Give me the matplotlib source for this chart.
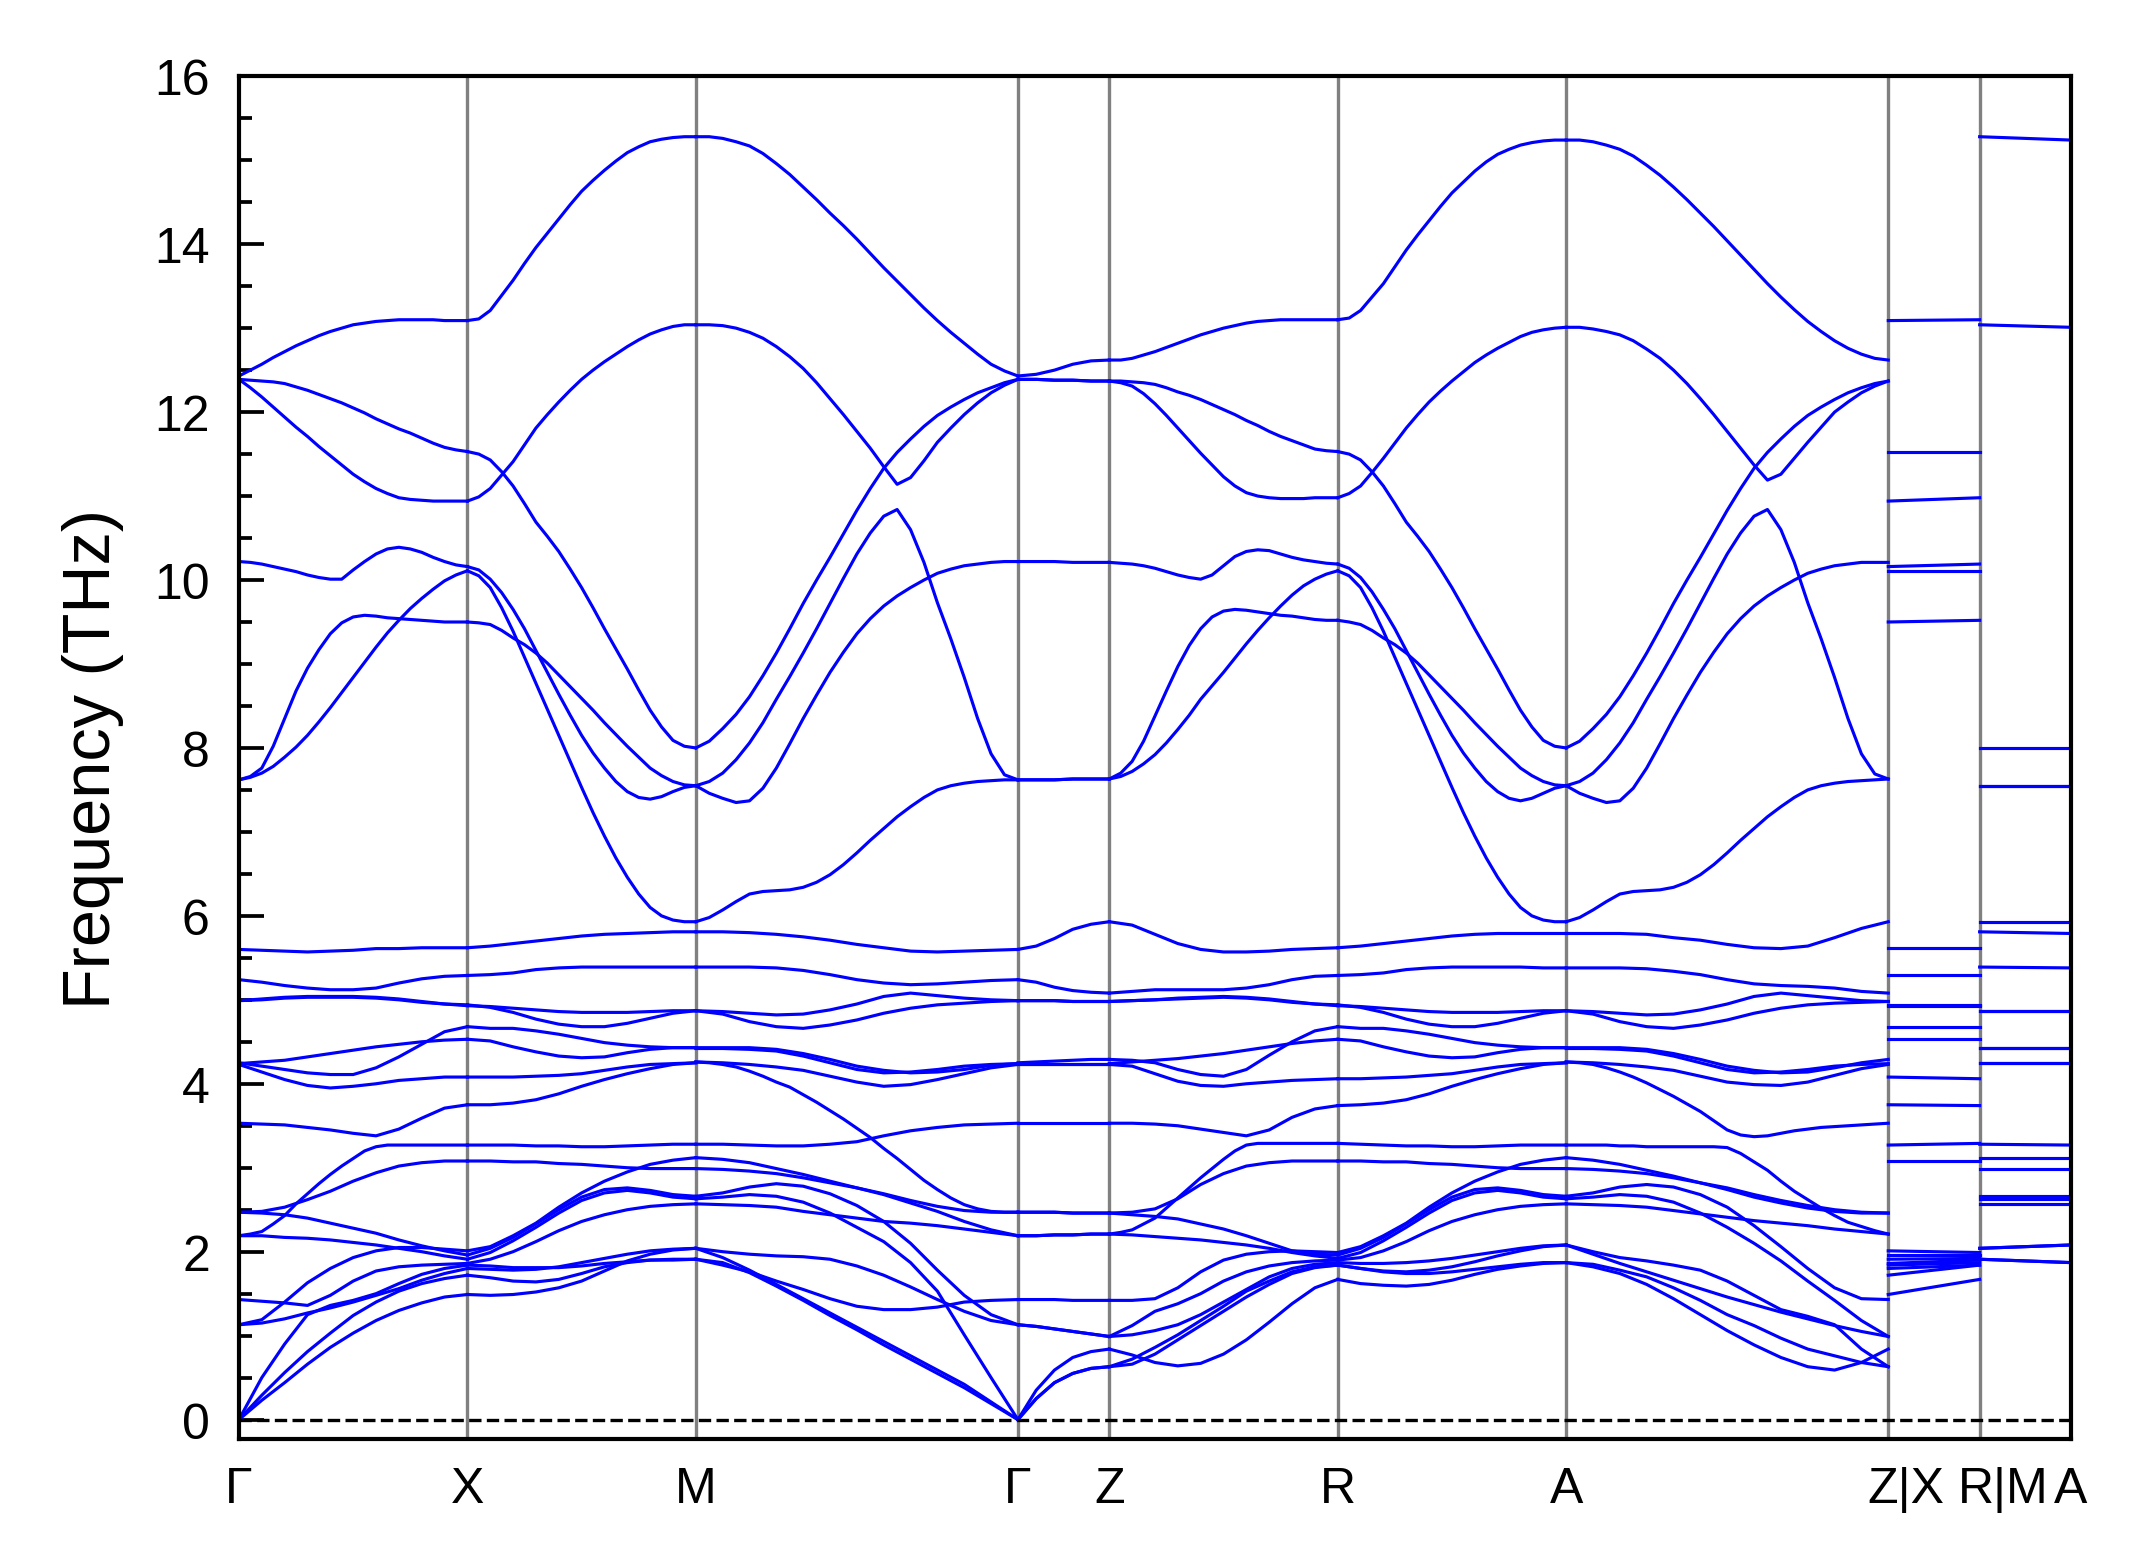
import numpy as np
import matplotlib
matplotlib.use("Agg")
import matplotlib.pyplot as plt
import matplotlib.transforms as mtransforms

plt.rcParams['font.family'] = ['Liberation Sans', 'DejaVu Sans']

# high-symmetry path and relative segment lengths (tetragonal, c/a ~ 2.5)
labels = ["Γ", "X", "M", "Γ", "Z", "R", "A", "Z|X", "R|M", "A"]
seg_len = [1.0, 1.0, 1.41, 0.40, 1.0, 1.0, 1.41, 0.40, 0.40]

# phonon frequencies (THz), one row per band, read along each segment.
# the six optical bands above 6 THz (and a few steep low ones) are read more finely

hi_GX = [
    [12.43, 12.50, 12.57, 12.65, 12.72, 12.79, 12.85, 12.91, 12.96, 13.00, 13.04,
     13.06, 13.08, 13.09, 13.10, 13.10, 13.10, 13.10, 13.09, 13.09, 13.09],
    [12.39, 12.38, 12.37, 12.36, 12.34, 12.30, 12.26, 12.21, 12.16, 12.11, 12.05,
     11.99, 11.92, 11.86, 11.80, 11.75, 11.69, 11.63, 11.58, 11.55, 11.53],
    [12.39, 12.29, 12.18, 12.06, 11.94, 11.82, 11.71, 11.59, 11.48, 11.37, 11.26,
     11.17, 11.09, 11.03, 10.98, 10.96, 10.95, 10.94, 10.94, 10.94, 10.94],
    [10.22, 10.21, 10.19, 10.16, 10.13, 10.10, 10.06, 10.03, 10.01, 10.01, 10.12,
     10.22, 10.31, 10.37, 10.39, 10.37, 10.33, 10.27, 10.22, 10.18, 10.16],
    [7.62, 7.65, 7.70, 7.78, 7.89, 8.01, 8.15, 8.31, 8.48, 8.66, 8.84,
     9.02, 9.20, 9.37, 9.52, 9.66, 9.78, 9.89, 9.99, 10.06, 10.11],
    [7.62, 7.66, 7.76, 8.02, 8.35, 8.68, 8.95, 9.17, 9.36, 9.49, 9.56,
     9.58, 9.57, 9.55, 9.54, 9.53, 9.52, 9.51, 9.50, 9.50, 9.50],
    [2.19, 2.21, 2.24, 2.33, 2.43, 2.57, 2.69, 2.81, 2.92, 3.02, 3.11,
     3.20, 3.25, 3.27, 3.27, 3.27, 3.27, 3.27, 3.27, 3.27, 3.27],
]
lo_GX = [
    [5.60, 5.59, 5.58, 5.57, 5.58, 5.59, 5.61, 5.61, 5.62, 5.62, 5.62],
    [5.24, 5.21, 5.17, 5.14, 5.12, 5.12, 5.14, 5.20, 5.25, 5.28, 5.29],
    [4.99, 5.01, 5.03, 5.04, 5.04, 5.04, 5.03, 5.01, 4.98, 4.95, 4.93],
    [4.99, 5.00, 5.02, 5.03, 5.03, 5.03, 5.02, 5.00, 4.97, 4.95, 4.94],
    [4.25, 4.21, 4.17, 4.13, 4.11, 4.11, 4.19, 4.32, 4.47, 4.62, 4.68],
    [4.24, 4.26, 4.28, 4.32, 4.36, 4.40, 4.44, 4.47, 4.50, 4.52, 4.53],
    [4.23, 4.14, 4.05, 3.98, 3.95, 3.97, 4.00, 4.04, 4.06, 4.08, 4.08],
    [3.53, 3.52, 3.51, 3.48, 3.45, 3.41, 3.38, 3.46, 3.59, 3.71, 3.75],
    [2.47, 2.48, 2.53, 2.62, 2.72, 2.84, 2.94, 3.02, 3.06, 3.08, 3.08],
    [2.47, 2.46, 2.44, 2.40, 2.34, 2.28, 2.22, 2.14, 2.07, 2.01, 1.96],
    [2.19, 2.19, 2.17, 2.16, 2.14, 2.11, 2.08, 2.04, 2.00, 1.95, 1.91],
    [1.43, 1.41, 1.39, 1.36, 1.48, 1.65, 1.77, 1.82, 1.84, 1.85, 1.86],
    [1.13, 1.19, 1.40, 1.63, 1.80, 1.93, 2.01, 2.05, 2.05, 2.03, 2.01],
    [1.13, 1.15, 1.20, 1.27, 1.33, 1.40, 1.48, 1.56, 1.66, 1.74, 1.80],
    [0.00, 0.23, 0.44, 0.66, 0.86, 1.03, 1.18, 1.30, 1.39, 1.46, 1.49],
    [0.00, 0.29, 0.56, 0.81, 1.03, 1.24, 1.40, 1.53, 1.62, 1.68, 1.72],
    [0.00, 0.50, 0.90, 1.25, 1.36, 1.42, 1.50, 1.62, 1.73, 1.80, 1.84],
]

hi_XM = [
    [13.09, 13.11, 13.21, 13.39, 13.57, 13.77, 13.96, 14.13, 14.30, 14.47, 14.63,
     14.76, 14.88, 14.99, 15.09, 15.16, 15.22, 15.25, 15.27, 15.28, 15.28],
    [10.94, 10.99, 11.09, 11.25, 11.41, 11.61, 11.81, 11.97, 12.12, 12.26, 12.39,
     12.50, 12.60, 12.69, 12.78, 12.86, 12.93, 12.98, 13.02, 13.04, 13.04],
    [11.53, 11.50, 11.43, 11.29, 11.12, 10.91, 10.69, 10.52, 10.34, 10.13, 9.91,
     9.67, 9.42, 9.18, 8.94, 8.69, 8.45, 8.25, 8.09, 8.02, 8.00],
    [10.16, 10.12, 10.01, 9.85, 9.65, 9.42, 9.16, 8.90, 8.64, 8.39, 8.15,
     7.94, 7.76, 7.60, 7.48, 7.41, 7.39, 7.42, 7.48, 7.53, 7.55],
    [10.11, 10.05, 9.91, 9.67, 9.39, 9.08, 8.77, 8.46, 8.15, 7.84, 7.53,
     7.23, 6.95, 6.69, 6.46, 6.26, 6.10, 6.00, 5.95, 5.93, 5.93],
    [9.50, 9.49, 9.47, 9.40, 9.31, 9.23, 9.13, 9.01, 8.87, 8.73, 8.59,
     8.45, 8.30, 8.16, 8.02, 7.89, 7.76, 7.67, 7.60, 7.56, 7.55],
]
lo_XM = [
    [5.62, 5.64, 5.67, 5.70, 5.73, 5.76, 5.78, 5.79, 5.80, 5.81, 5.81],
    [5.29, 5.30, 5.32, 5.36, 5.38, 5.39, 5.39, 5.39, 5.39, 5.39, 5.39],
    [4.93, 4.92, 4.90, 4.88, 4.86, 4.85, 4.85, 4.85, 4.86, 4.87, 4.87],
    [4.94, 4.91, 4.85, 4.77, 4.71, 4.68, 4.68, 4.72, 4.78, 4.84, 4.87],
    [4.68, 4.66, 4.66, 4.63, 4.59, 4.54, 4.49, 4.46, 4.44, 4.43, 4.43],
    [4.53, 4.51, 4.44, 4.38, 4.33, 4.31, 4.32, 4.37, 4.41, 4.43, 4.43],
    [4.08, 4.08, 4.08, 4.09, 4.10, 4.12, 4.16, 4.20, 4.23, 4.24, 4.25],
    [3.75, 3.75, 3.77, 3.81, 3.88, 3.97, 4.05, 4.12, 4.18, 4.23, 4.25],
    [3.27, 3.27, 3.27, 3.26, 3.26, 3.25, 3.25, 3.26, 3.27, 3.28, 3.28],
    [3.08, 3.08, 3.07, 3.07, 3.05, 3.04, 3.02, 3.00, 2.99, 2.99, 2.99],
    [2.01, 2.06, 2.19, 2.34, 2.53, 2.70, 2.84, 2.95, 3.04, 3.09, 3.12],
    [1.96, 2.04, 2.17, 2.33, 2.50, 2.65, 2.74, 2.76, 2.73, 2.68, 2.66],
    [1.91, 1.99, 2.13, 2.29, 2.46, 2.61, 2.70, 2.73, 2.70, 2.65, 2.63],
    [1.86, 1.91, 2.00, 2.12, 2.25, 2.36, 2.44, 2.50, 2.54, 2.56, 2.57],
    [1.80, 1.79, 1.78, 1.79, 1.82, 1.87, 1.92, 1.97, 2.01, 2.03, 2.04],
    [1.84, 1.83, 1.81, 1.81, 1.81, 1.83, 1.86, 1.88, 1.90, 1.90, 1.91],
    [1.72, 1.69, 1.65, 1.64, 1.67, 1.74, 1.82, 1.87, 1.90, 1.91, 1.91],
    [1.49, 1.48, 1.49, 1.52, 1.57, 1.65, 1.77, 1.89, 1.97, 2.02, 2.04],
]

hi_MG = [
    [15.28, 15.28, 15.26, 15.22, 15.17, 15.08, 14.96, 14.83, 14.68, 14.53, 14.37, 14.22,
     14.06, 13.89, 13.72, 13.56, 13.40, 13.24, 13.09, 12.95, 12.82, 12.69, 12.57, 12.49, 12.43],
    [13.04, 13.04, 13.03, 13.00, 12.95, 12.88, 12.78, 12.66, 12.52, 12.35, 12.16, 11.97,
     11.77, 11.57, 11.35, 11.14, 11.22, 11.42, 11.64, 11.81, 11.97, 12.11, 12.23, 12.32, 12.39],
    [8.00, 8.08, 8.23, 8.40, 8.61, 8.86, 9.13, 9.42, 9.72, 10.00, 10.27, 10.55,
     10.83, 11.09, 11.33, 11.52, 11.68, 11.83, 11.96, 12.06, 12.15, 12.23, 12.29, 12.35, 12.39],
    [7.55, 7.60, 7.70, 7.86, 8.06, 8.30, 8.58, 8.85, 9.13, 9.42, 9.72, 10.02,
     10.31, 10.56, 10.76, 10.84, 10.60, 10.21, 9.73, 9.30, 8.84, 8.35, 7.93, 7.68, 7.62],
    [7.55, 7.46, 7.40, 7.35, 7.37, 7.52, 7.76, 8.05, 8.35, 8.63, 8.90, 9.14,
     9.36, 9.54, 9.69, 9.81, 9.91, 10.00, 10.08, 10.13, 10.17, 10.19, 10.21, 10.22, 10.22],
    [5.93, 5.98, 6.07, 6.17, 6.26, 6.29, 6.30, 6.31, 6.34, 6.40, 6.49, 6.61,
     6.75, 6.90, 7.04, 7.18, 7.30, 7.41, 7.50, 7.55, 7.58, 7.60, 7.61, 7.62, 7.62],
    [4.26, 4.25, 4.23, 4.20, 4.15, 4.09, 4.02, 3.96, 3.87, 3.78, 3.68, 3.58,
     3.47, 3.36, 3.23, 3.11, 2.98, 2.85, 2.74, 2.64, 2.56, 2.51, 2.48, 2.47, 2.47],
]
lo_MG = [
    [5.81, 5.81, 5.80, 5.78, 5.75, 5.71, 5.66, 5.62, 5.58, 5.57, 5.58, 5.59, 5.60],
    [5.39, 5.39, 5.39, 5.38, 5.35, 5.30, 5.24, 5.20, 5.18, 5.19, 5.21, 5.23, 5.24],
    [4.87, 4.86, 4.84, 4.82, 4.83, 4.88, 4.95, 5.04, 5.08, 5.05, 5.02, 5.00, 4.99],
    [4.87, 4.83, 4.74, 4.68, 4.66, 4.70, 4.76, 4.84, 4.90, 4.94, 4.96, 4.98, 4.99],
    [4.43, 4.43, 4.43, 4.41, 4.36, 4.29, 4.21, 4.16, 4.13, 4.14, 4.17, 4.22, 4.24],
    [4.42, 4.42, 4.41, 4.39, 4.33, 4.25, 4.17, 4.13, 4.14, 4.17, 4.21, 4.23, 4.24],
    [4.26, 4.25, 4.23, 4.20, 4.16, 4.09, 4.02, 3.97, 3.99, 4.05, 4.12, 4.19, 4.23],
    [3.28, 3.28, 3.27, 3.26, 3.26, 3.28, 3.31, 3.38, 3.44, 3.48, 3.51, 3.52, 3.53],
    [2.99, 2.98, 2.96, 2.93, 2.88, 2.82, 2.76, 2.69, 2.61, 2.54, 2.49, 2.47, 2.47],
    [3.12, 3.10, 3.06, 2.99, 2.92, 2.84, 2.76, 2.68, 2.58, 2.48, 2.36, 2.26, 2.19],
    [2.66, 2.70, 2.77, 2.81, 2.78, 2.69, 2.55, 2.36, 2.10, 1.78, 1.48, 1.25, 1.13],
    [2.63, 2.65, 2.68, 2.66, 2.59, 2.46, 2.29, 2.12, 1.87, 1.53, 1.01, 0.50, 0.00],
    [2.57, 2.56, 2.55, 2.53, 2.48, 2.44, 2.40, 2.36, 2.34, 2.31, 2.27, 2.23, 2.19],
    [2.04, 2.00, 1.97, 1.95, 1.94, 1.91, 1.83, 1.72, 1.58, 1.43, 1.29, 1.18, 1.13],
    [1.91, 1.84, 1.76, 1.65, 1.55, 1.44, 1.35, 1.31, 1.31, 1.34, 1.40, 1.42, 1.43],
    [2.04, 1.93, 1.78, 1.61, 1.44, 1.27, 1.10, 0.93, 0.76, 0.59, 0.42, 0.21, 0.00],
    [1.91, 1.87, 1.75, 1.59, 1.42, 1.24, 1.07, 0.89, 0.72, 0.55, 0.38, 0.19, 0.00],
]

bands_GZ = [
    [12.43, 12.45, 12.50, 12.57, 12.61, 12.62],
    [12.39, 12.39, 12.38, 12.38, 12.37, 12.37],
    [12.39, 12.39, 12.38, 12.38, 12.37, 12.37],
    [10.22, 10.22, 10.22, 10.21, 10.21, 10.21],
    [7.62, 7.62, 7.62, 7.63, 7.63, 7.63],
    [7.62, 7.62, 7.62, 7.63, 7.63, 7.63],
    [5.60, 5.64, 5.73, 5.84, 5.90, 5.93],
    [5.24, 5.21, 5.15, 5.11, 5.09, 5.08],
    [4.99, 4.99, 4.99, 4.98, 4.98, 4.98],
    [4.99, 4.99, 4.99, 4.98, 4.98, 4.98],
    [4.25, 4.26, 4.27, 4.28, 4.29, 4.29],
    [4.24, 4.24, 4.24, 4.24, 4.24, 4.24],
    [4.23, 4.23, 4.23, 4.23, 4.23, 4.23],
    [3.53, 3.53, 3.53, 3.53, 3.53, 3.53],
    [2.47, 2.47, 2.47, 2.46, 2.46, 2.46],
    [2.47, 2.47, 2.47, 2.46, 2.46, 2.46],
    [2.19, 2.19, 2.20, 2.20, 2.21, 2.21],
    [2.19, 2.19, 2.20, 2.20, 2.21, 2.21],
    [1.43, 1.43, 1.43, 1.42, 1.42, 1.42],
    [1.13, 1.11, 1.08, 1.05, 1.02, 0.99],
    [1.13, 1.11, 1.08, 1.05, 1.02, 0.99],
    [0.00, 0.35, 0.59, 0.74, 0.81, 0.84],
    [0.00, 0.25, 0.44, 0.55, 0.61, 0.63],
    [0.00, 0.25, 0.44, 0.55, 0.61, 0.63],
]

hi_ZR = [
    [12.62, 12.62, 12.64, 12.68, 12.72, 12.77, 12.82, 12.87, 12.92, 12.96, 13.00,
     13.03, 13.06, 13.08, 13.09, 13.10, 13.10, 13.10, 13.10, 13.10, 13.10],
    [12.37, 12.37, 12.36, 12.35, 12.33, 12.29, 12.24, 12.20, 12.15, 12.09, 12.03,
     11.97, 11.90, 11.84, 11.77, 11.71, 11.66, 11.61, 11.56, 11.54, 11.53],
    [12.37, 12.35, 12.31, 12.22, 12.10, 11.96, 11.81, 11.66, 11.51, 11.37, 11.23,
     11.12, 11.04, 11.00, 10.98, 10.97, 10.97, 10.97, 10.98, 10.98, 10.98],
    [10.21, 10.20, 10.19, 10.17, 10.14, 10.10, 10.06, 10.03, 10.01, 10.06, 10.17,
     10.28, 10.34, 10.36, 10.35, 10.31, 10.27, 10.24, 10.22, 10.20, 10.19],
    [7.63, 7.66, 7.72, 7.81, 7.92, 8.06, 8.22, 8.39, 8.58, 8.74, 8.90,
     9.07, 9.24, 9.40, 9.55, 9.69, 9.82, 9.93, 10.01, 10.07, 10.11],
    [7.63, 7.70, 7.84, 8.08, 8.38, 8.68, 8.97, 9.22, 9.42, 9.56, 9.63,
     9.65, 9.64, 9.62, 9.60, 9.58, 9.57, 9.55, 9.53, 9.52, 9.52],
    [2.21, 2.23, 2.26, 2.33, 2.40, 2.52, 2.64, 2.76, 2.88, 2.99, 3.10,
     3.20, 3.27, 3.29, 3.29, 3.29, 3.29, 3.29, 3.29, 3.29, 3.29],
]
lo_ZR = [
    [5.93, 5.89, 5.78, 5.67, 5.60, 5.57, 5.57, 5.58, 5.60, 5.61, 5.62],
    [5.08, 5.10, 5.12, 5.12, 5.12, 5.12, 5.14, 5.18, 5.24, 5.28, 5.29],
    [4.98, 4.99, 5.00, 5.02, 5.03, 5.04, 5.03, 5.01, 4.98, 4.95, 4.93],
    [4.98, 4.99, 5.00, 5.01, 5.02, 5.03, 5.02, 5.00, 4.97, 4.95, 4.94],
    [4.29, 4.28, 4.25, 4.17, 4.11, 4.09, 4.17, 4.34, 4.50, 4.63, 4.68],
    [4.24, 4.26, 4.28, 4.30, 4.33, 4.36, 4.40, 4.44, 4.48, 4.51, 4.53],
    [4.23, 4.21, 4.12, 4.03, 3.98, 3.97, 4.00, 4.02, 4.04, 4.05, 4.06],
    [3.53, 3.53, 3.52, 3.50, 3.46, 3.42, 3.38, 3.45, 3.60, 3.70, 3.74],
    [2.46, 2.47, 2.51, 2.63, 2.80, 2.93, 3.02, 3.06, 3.08, 3.08, 3.08],
    [2.46, 2.44, 2.42, 2.39, 2.33, 2.27, 2.19, 2.10, 2.01, 1.97, 1.96],
    [2.21, 2.20, 2.18, 2.16, 2.14, 2.11, 2.08, 2.04, 1.99, 1.95, 1.92],
    [1.42, 1.42, 1.44, 1.57, 1.76, 1.90, 1.97, 2.00, 2.01, 2.00, 1.99],
    [0.99, 1.12, 1.29, 1.38, 1.50, 1.65, 1.76, 1.83, 1.87, 1.89, 1.90],
    [0.99, 1.01, 1.06, 1.13, 1.25, 1.40, 1.55, 1.70, 1.80, 1.85, 1.87],
    [0.84, 0.77, 0.68, 0.64, 0.67, 0.78, 0.95, 1.16, 1.38, 1.57, 1.67],
    [0.63, 0.72, 0.86, 1.01, 1.18, 1.35, 1.53, 1.65, 1.76, 1.82, 1.84],
    [0.63, 0.66, 0.78, 0.95, 1.12, 1.29, 1.46, 1.61, 1.74, 1.81, 1.84],
]

hi_RA = [
    [13.10, 13.12, 13.21, 13.37, 13.53, 13.73, 13.93, 14.11, 14.28, 14.45, 14.61,
     14.74, 14.87, 14.98, 15.07, 15.13, 15.18, 15.21, 15.23, 15.24, 15.24],
    [10.98, 11.03, 11.12, 11.28, 11.45, 11.63, 11.81, 11.97, 12.12, 12.25, 12.37,
     12.48, 12.59, 12.68, 12.76, 12.83, 12.90, 12.95, 12.98, 13.00, 13.01],
    [11.53, 11.50, 11.43, 11.29, 11.12, 10.91, 10.69, 10.52, 10.34, 10.13, 9.91,
     9.67, 9.42, 9.18, 8.94, 8.69, 8.45, 8.25, 8.09, 8.02, 8.00],
    [10.19, 10.14, 10.03, 9.86, 9.65, 9.42, 9.16, 8.90, 8.64, 8.39, 8.15,
     7.94, 7.76, 7.60, 7.48, 7.40, 7.37, 7.40, 7.46, 7.52, 7.55],
    [10.11, 10.05, 9.91, 9.67, 9.39, 9.08, 8.77, 8.46, 8.15, 7.84, 7.53,
     7.23, 6.95, 6.69, 6.46, 6.26, 6.10, 6.00, 5.95, 5.93, 5.93],
    [9.52, 9.50, 9.47, 9.40, 9.31, 9.23, 9.13, 9.01, 8.87, 8.73, 8.59,
     8.45, 8.30, 8.16, 8.02, 7.89, 7.76, 7.67, 7.60, 7.56, 7.55],
]
lo_RA = [
    [5.62, 5.64, 5.67, 5.70, 5.73, 5.76, 5.78, 5.79, 5.79, 5.79, 5.79],
    [5.29, 5.30, 5.32, 5.36, 5.38, 5.39, 5.39, 5.39, 5.39, 5.38, 5.38],
    [4.93, 4.92, 4.90, 4.88, 4.86, 4.85, 4.85, 4.85, 4.86, 4.87, 4.87],
    [4.94, 4.91, 4.85, 4.77, 4.71, 4.68, 4.68, 4.72, 4.78, 4.84, 4.87],
    [4.68, 4.66, 4.66, 4.63, 4.59, 4.54, 4.49, 4.46, 4.44, 4.43, 4.43],
    [4.53, 4.51, 4.44, 4.38, 4.33, 4.31, 4.32, 4.37, 4.41, 4.43, 4.43],
    [4.06, 4.06, 4.07, 4.08, 4.10, 4.12, 4.16, 4.20, 4.23, 4.24, 4.25],
    [3.74, 3.75, 3.77, 3.81, 3.88, 3.97, 4.05, 4.12, 4.18, 4.23, 4.25],
    [3.29, 3.28, 3.27, 3.26, 3.26, 3.25, 3.25, 3.26, 3.27, 3.27, 3.27],
    [3.08, 3.08, 3.07, 3.07, 3.05, 3.04, 3.02, 3.00, 2.99, 2.99, 2.99],
    [1.99, 2.06, 2.19, 2.34, 2.53, 2.70, 2.84, 2.95, 3.04, 3.09, 3.12],
    [1.96, 2.04, 2.17, 2.33, 2.50, 2.65, 2.74, 2.76, 2.73, 2.68, 2.66],
    [1.92, 1.99, 2.13, 2.29, 2.46, 2.61, 2.70, 2.73, 2.70, 2.65, 2.63],
    [1.90, 1.93, 2.01, 2.12, 2.25, 2.36, 2.44, 2.50, 2.54, 2.56, 2.57],
    [1.87, 1.86, 1.86, 1.87, 1.89, 1.92, 1.96, 2.00, 2.04, 2.07, 2.08],
    [1.84, 1.80, 1.77, 1.76, 1.78, 1.82, 1.88, 1.95, 2.01, 2.06, 2.08],
    [1.84, 1.80, 1.76, 1.74, 1.74, 1.76, 1.79, 1.82, 1.85, 1.87, 1.87],
    [1.67, 1.62, 1.60, 1.59, 1.61, 1.66, 1.73, 1.79, 1.83, 1.86, 1.87],
]

hi_AZ = [
    [15.24, 15.24, 15.22, 15.18, 15.13, 15.05, 14.94, 14.82, 14.68, 14.53, 14.37, 14.21,
     14.04, 13.87, 13.70, 13.53, 13.37, 13.22, 13.08, 12.96, 12.85, 12.76, 12.69, 12.64, 12.62],
    [13.01, 13.01, 12.99, 12.96, 12.92, 12.85, 12.75, 12.64, 12.50, 12.34, 12.16, 11.97,
     11.77, 11.57, 11.37, 11.19, 11.26, 11.45, 11.64, 11.82, 12.00, 12.12, 12.23, 12.31, 12.37],
    [8.00, 8.08, 8.23, 8.40, 8.61, 8.86, 9.13, 9.42, 9.72, 10.00, 10.27, 10.55,
     10.83, 11.09, 11.33, 11.52, 11.68, 11.83, 11.96, 12.06, 12.15, 12.23, 12.29, 12.34, 12.37],
    [7.55, 7.60, 7.70, 7.86, 8.06, 8.30, 8.58, 8.85, 9.13, 9.42, 9.72, 10.02,
     10.31, 10.56, 10.76, 10.84, 10.60, 10.21, 9.73, 9.30, 8.84, 8.35, 7.93, 7.69, 7.63],
    [7.55, 7.46, 7.40, 7.35, 7.37, 7.52, 7.76, 8.05, 8.35, 8.63, 8.90, 9.14,
     9.36, 9.54, 9.69, 9.81, 9.91, 10.00, 10.08, 10.13, 10.17, 10.19, 10.21, 10.21, 10.21],
    [5.93, 5.98, 6.07, 6.17, 6.26, 6.29, 6.30, 6.31, 6.34, 6.40, 6.49, 6.61,
     6.75, 6.90, 7.04, 7.18, 7.30, 7.41, 7.50, 7.55, 7.58, 7.60, 7.61, 7.62, 7.63],
    [4.26, 4.25, 4.23, 4.19, 4.14, 4.08, 4.01, 3.93, 3.85, 3.76, 3.67, 3.56,
     3.45, 3.39, 3.37, 3.38, 3.41, 3.44, 3.46, 3.48, 3.49, 3.50, 3.51, 3.52, 3.53],
    [3.27, 3.27, 3.27, 3.27, 3.26, 3.26, 3.25, 3.25, 3.25, 3.25, 3.25, 3.25,
     3.24, 3.17, 3.07, 2.97, 2.84, 2.72, 2.62, 2.52, 2.43, 2.35, 2.30, 2.25, 2.21],
]
lo_AZ = [
    [5.79, 5.79, 5.79, 5.78, 5.74, 5.71, 5.66, 5.62, 5.61, 5.64, 5.74, 5.85, 5.93],
    [5.38, 5.38, 5.38, 5.37, 5.34, 5.30, 5.24, 5.19, 5.17, 5.16, 5.14, 5.10, 5.08],
    [4.87, 4.86, 4.84, 4.82, 4.83, 4.88, 4.95, 5.04, 5.08, 5.05, 5.02, 4.99, 4.98],
    [4.87, 4.83, 4.74, 4.68, 4.66, 4.70, 4.76, 4.84, 4.90, 4.94, 4.96, 4.97, 4.98],
    [4.43, 4.43, 4.43, 4.41, 4.36, 4.29, 4.21, 4.16, 4.13, 4.14, 4.19, 4.25, 4.29],
    [4.42, 4.42, 4.41, 4.39, 4.33, 4.25, 4.17, 4.13, 4.14, 4.17, 4.21, 4.23, 4.24],
    [4.26, 4.25, 4.23, 4.20, 4.16, 4.09, 4.02, 3.99, 3.98, 4.02, 4.10, 4.18, 4.23],
    [2.99, 2.98, 2.96, 2.93, 2.88, 2.82, 2.76, 2.68, 2.61, 2.55, 2.50, 2.47, 2.46],
    [3.12, 3.09, 3.04, 2.97, 2.90, 2.82, 2.74, 2.65, 2.58, 2.52, 2.48, 2.46, 2.46],
    [2.57, 2.56, 2.55, 2.53, 2.49, 2.45, 2.41, 2.37, 2.34, 2.31, 2.27, 2.24, 2.21],
    [2.66, 2.70, 2.77, 2.80, 2.77, 2.68, 2.53, 2.31, 2.06, 1.80, 1.57, 1.44, 1.43],
    [2.63, 2.65, 2.68, 2.66, 2.59, 2.46, 2.29, 2.10, 1.89, 1.65, 1.42, 1.18, 0.99],
    [2.08, 2.00, 1.93, 1.89, 1.84, 1.78, 1.65, 1.48, 1.31, 1.23, 1.13, 0.84, 0.63],
    [2.08, 1.97, 1.86, 1.76, 1.66, 1.56, 1.46, 1.37, 1.28, 1.20, 1.12, 1.05, 0.99],
    [1.87, 1.82, 1.74, 1.61, 1.44, 1.25, 1.06, 0.89, 0.74, 0.63, 0.59, 0.68, 0.84],
    [1.87, 1.85, 1.78, 1.70, 1.57, 1.42, 1.25, 1.12, 0.97, 0.84, 0.76, 0.68, 0.63],
]

bands_XR = [
    [13.09, 13.10], [11.53, 11.53], [10.94, 10.98], [10.16, 10.19],
    [10.11, 10.11], [9.50, 9.52], [5.62, 5.62], [5.29, 5.29],
    [4.93, 4.93], [4.94, 4.94], [4.68, 4.68], [4.53, 4.53],
    [4.08, 4.06], [3.75, 3.74], [3.27, 3.29], [3.08, 3.08],
    [2.01, 1.99], [1.96, 1.96], [1.91, 1.92], [1.86, 1.90],
    [1.84, 1.87], [1.80, 1.84], [1.72, 1.84], [1.49, 1.67],
]

bands_MA = [
    [15.28, 15.24], [13.04, 13.01], [8.00, 8.00], [7.55, 7.55],
    [7.55, 7.55], [5.93, 5.93], [5.81, 5.79], [5.39, 5.38],
    [4.87, 4.87], [4.87, 4.87], [4.43, 4.43], [4.43, 4.43],
    [4.25, 4.25], [4.25, 4.25], [3.28, 3.27], [2.99, 2.99],
    [3.12, 3.12], [2.66, 2.66], [2.63, 2.63], [2.57, 2.57],
    [2.04, 2.08], [2.04, 2.08], [1.91, 1.87], [1.91, 1.87],
]

segments = [hi_GX + lo_GX, hi_XM + lo_XM, hi_MG + lo_MG, bands_GZ,
            hi_ZR + lo_ZR, hi_RA + lo_RA, hi_AZ + lo_AZ, bands_XR, bands_MA]
nodes = np.concatenate([[0.0], np.cumsum(seg_len)])

fig = plt.figure(figsize=(7.15, 5.2233), dpi=300)
ax = fig.add_axes([0.1114, 0.0811, 0.8541, 0.8696])

for i, seg in enumerate(segments):
    for band in seg:
        q = np.linspace(nodes[i], nodes[i + 1], len(band))
        ax.plot(q, band, color='blue', lw=0.75, solid_joinstyle='round')

for xv in nodes[1:-1]:
    ax.axvline(xv, color='gray', lw=0.8, zorder=0)
ax.axhline(0, color='black', ls='--', lw=0.8)

ax.set_xlim(nodes[0], nodes[-1])
ax.set_ylim(-0.23, 16)
ax.set_xticks(nodes)
ax.set_xticklabels(labels)
ax.set_yticks(np.arange(0, 17, 2))
ax.set_yticks(np.arange(0, 16.01, 0.5), minor=True)
ax.tick_params(axis='y', which='major', direction='in', length=6, width=0.9,
               labelsize=12, pad=7)
ax.tick_params(axis='y', which='minor', direction='in', length=3, width=0.9)
ax.tick_params(axis='x', which='major', length=0, labelsize=12, pad=6.5)
for s in ax.spines.values():
    s.set_linewidth(1.0)

# the two break labels sit a little right of their lines in the original
ticklabs = ax.get_xticklabels()
for lab, dx in ((ticklabs[7], 0.06), (ticklabs[8], 0.08)):
    lab.set_transform(lab.get_transform() +
                      mtransforms.ScaledTranslation(dx, 0, fig.dpi_scale_trans))

ax.set_ylabel('Frequency (THz)', fontsize=16)
ax.yaxis.set_label_coords(-0.063, 0.5)

fig.savefig('out.png', dpi=300)
